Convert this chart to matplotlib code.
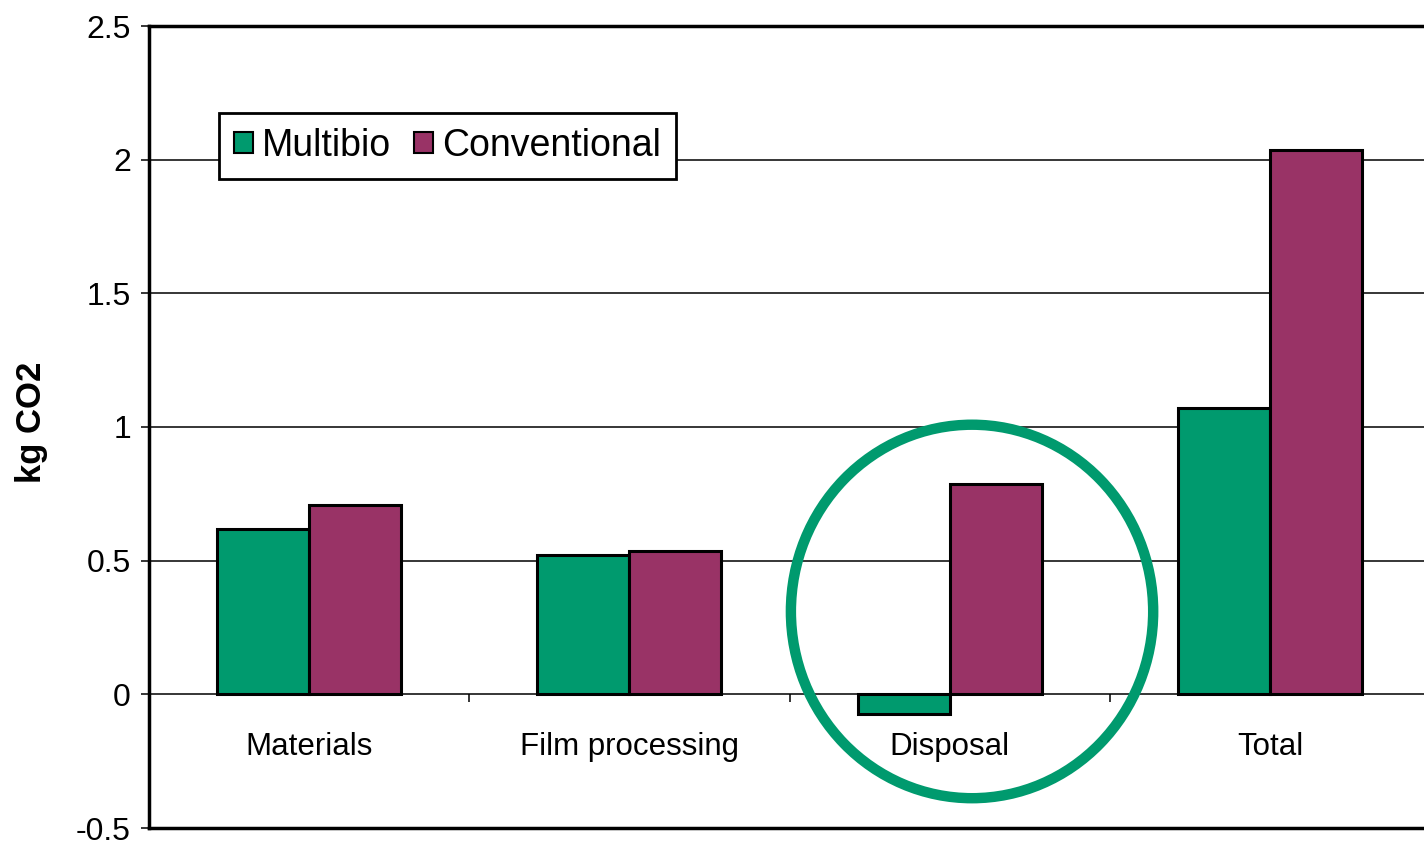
import matplotlib.pyplot as plt
from matplotlib.patches import Ellipse
import numpy as np

categories = ["Materials", "Film processing", "Disposal", "Total"]
multibio = [0.62, 0.523, -0.075, 1.07]
conventional = [0.71, 0.538, 0.785, 2.035]
yticks = [-0.5, 0, 0.5, 1, 1.5, 2, 2.5]
ytick_labels = ["-0.5", "0", "0.5", "1", "1.5", "2", "2.5"]

GREEN = "#009a6e"
PURPLE = "#993366"


def main():
    plt.rcParams['font.family'] = ['Liberation Sans', 'DejaVu Sans']
    fig = plt.figure(figsize=(14.24, 8.41), dpi=100)
    ax = fig.add_axes([149 / 1424, 13 / 841, 1281 / 1424, 802 / 841])

    x = np.arange(len(categories))
    w = 0.2875
    ax.bar(x - w / 2, multibio, w, color=GREEN, edgecolor='black',
           linewidth=2.2, label='Multibio', zorder=3)
    ax.bar(x + w / 2, conventional, w, color=PURPLE, edgecolor='black',
           linewidth=2.2, label='Conventional', zorder=3)

    ax.set_xlim(-0.5, len(categories) - 0.5)
    ax.set_ylim(-0.5, 2.5)

    for v in yticks[2:-1]:
        ax.axhline(v, color='black', linewidth=1.1, zorder=1)
    ax.axhline(yticks[0], color='black', linewidth=2.5, zorder=2, clip_on=False)

    # category axis sits on the zero line
    ax.spines['bottom'].set_position(('data', 0))
    ax.spines['bottom'].set_linewidth(1.1)
    ax.spines['right'].set_visible(False)
    ax.spines['left'].set_linewidth(2.5)
    ax.spines['top'].set_linewidth(2.5)

    ax.set_xticks(x[:-1] + 0.5)
    ax.set_xticklabels([])
    ax.tick_params(axis='x', which='major', direction='out', length=6, width=1.1)
    ax.set_xticks(x, minor=True)
    ax.set_xticklabels(categories, minor=True, fontsize=22.5)
    ax.tick_params(axis='x', which='minor', length=0, pad=27)

    ax.set_yticks(yticks)
    ax.set_yticklabels(ytick_labels, fontsize=23)
    ax.tick_params(axis='y', direction='out', length=6, width=1.1, pad=7)

    fig.text(31 / 1424, 1 - 422 / 841, "kg CO2", rotation=90, fontsize=25,
             fontweight='bold', ha='center', va='center')

    leg = ax.legend(loc='upper left', bbox_to_anchor=(70 / 1281, 715 / 802),
                    borderaxespad=0, ncol=2, fontsize=27, fancybox=False,
                    edgecolor='black', framealpha=1, handlelength=0.5,
                    handleheight=0.5, handletextpad=0.25, columnspacing=0.6,
                    borderpad=0.4)
    leg.get_frame().set_linewidth(2)
    leg.set_zorder(5)
    for h in leg.legend_handles:
        h.set_linewidth(1.5)

    circle = Ellipse((2.07, 0.31), 2 * 181 / 320, 2 * 187 / 267.7, fill=False,
                     edgecolor=GREEN, linewidth=7.5, zorder=6, clip_on=False)
    ax.add_patch(circle)

    fig.savefig("out.png", dpi=100)


if __name__ == "__main__":
    main()
